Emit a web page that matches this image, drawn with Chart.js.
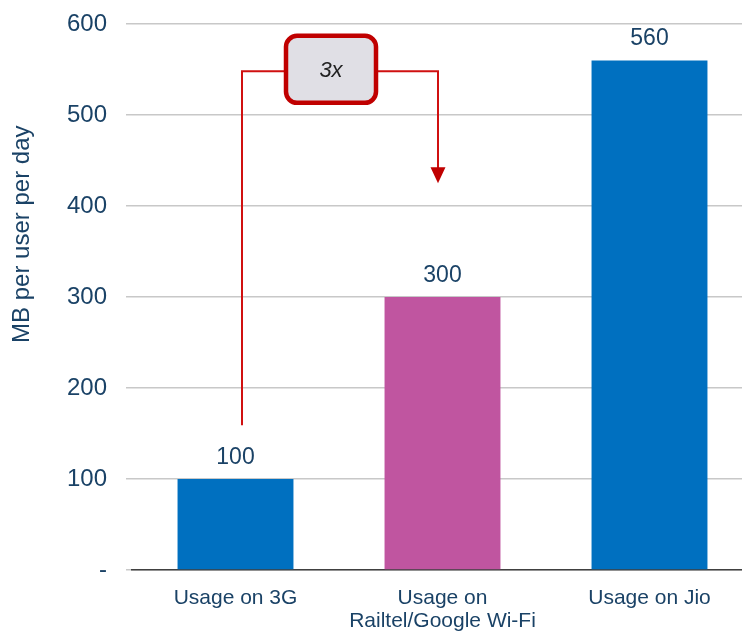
<!DOCTYPE html>
<html><head><meta charset="utf-8">
<script src="https://cdn.jsdelivr.net/npm/chart.js@4"></script>
<style>html,body{margin:0;padding:0;background:#fff;overflow:hidden;width:742px;height:632px}
#wrap{width:753px;height:632px;position:relative}</style>
</head><body><div id="wrap"><canvas id="c"></canvas></div>
<script>
const categories = [["Usage on 3G"], ["Usage on", "Railtel/Google Wi-Fi"], ["Usage on Jio"]];
const values = [100, 300, 560];
const barColors = ["#0070c0", "#c055a0", "#0070c0"];
const yTicks = [0, 100, 200, 300, 400, 500, 600];
const yTitle = "MB per user per day";
const multiplierLabel = "3x";
// annotation anchors in data units
const bracketStart = 159, bracketTop = 548, arrowTip = 425;
const yTitleCenter = 369;

const textColor = "#1a4266";
const FONT = '"Liberation Sans", Arial, sans-serif';

const dataLabels = {
  id: 'dataLabels',
  afterDatasetsDraw(chart) {
    const ctx = chart.ctx;
    const meta = chart.getDatasetMeta(0);
    ctx.save();
    ctx.font = '23px ' + FONT;
    ctx.fillStyle = textColor;
    ctx.textAlign = 'center';
    ctx.textBaseline = 'alphabetic';
    meta.data.forEach((bar, i) => {
      ctx.fillText(String(values[i]), bar.x, bar.y - 15);
    });
    ctx.restore();
  }
};

const axisTitle = {
  id: 'axisTitle',
  afterDraw(chart) {
    const ctx = chart.ctx;
    const y = chart.scales.y.getPixelForValue(yTitleCenter);
    ctx.save();
    ctx.translate(22, y);
    ctx.rotate(-Math.PI / 2);
    ctx.font = '24px ' + FONT;
    ctx.fillStyle = textColor;
    ctx.textAlign = 'center';
    ctx.textBaseline = 'middle';
    ctx.fillText(yTitle, 0, 0);
    ctx.restore();
  }
};

const bracket = {
  id: 'bracket',
  afterDatasetsDraw(chart) {
    const ctx = chart.ctx;
    const ys = chart.scales.y;
    const meta = chart.getDatasetMeta(0);
    const x0 = meta.data[0].x + 6.5;
    const x1 = meta.data[1].x - 4.5;
    const yStart = ys.getPixelForValue(bracketStart);
    const yTop = ys.getPixelForValue(bracketTop);
    const yTip = ys.getPixelForValue(arrowTip);
    ctx.save();
    ctx.strokeStyle = '#d01010';
    ctx.lineWidth = 2;
    ctx.beginPath();
    ctx.moveTo(x0, yStart);
    ctx.lineTo(x0, yTop);
    ctx.lineTo(x1, yTop);
    ctx.lineTo(x1, yTip - 14);
    ctx.stroke();
    ctx.fillStyle = '#c00000';
    ctx.beginPath();
    ctx.moveTo(x1 - 7.5, yTip - 16);
    ctx.lineTo(x1 + 7.5, yTip - 16);
    ctx.lineTo(x1, yTip);
    ctx.closePath();
    ctx.fill();
    // box
    const cx = (x0 + x1) / 2 - 9, w = 90, h = 67;
    const bx = cx - w / 2, by = yTop - h / 2 - 2;
    ctx.beginPath();
    ctx.roundRect(bx, by, w, h, 11);
    ctx.fillStyle = '#e0dfe5';
    ctx.fill();
    ctx.lineWidth = 4.5;
    ctx.strokeStyle = '#c00000';
    ctx.stroke();
    ctx.fillStyle = '#222';
    ctx.font = 'italic 22px ' + FONT;
    ctx.textAlign = 'center';
    ctx.textBaseline = 'middle';
    ctx.fillText(multiplierLabel, cx, yTop);
    ctx.restore();
  }
};

new Chart(document.getElementById('c'), {
  type: 'bar',
  data: {
    labels: categories,
    datasets: [{ data: values, backgroundColor: barColors, categoryPercentage: 1, barPercentage: 0.56 }]
  },
  options: {
    responsive: true,
    maintainAspectRatio: false,
    animation: false,
    layout: { padding: { top: 24, left: 0, right: 0, bottom: 0 } },
    plugins: { legend: { display: false }, tooltip: { enabled: false } },
    scales: {
      x: {
        grid: { display: false },
        border: { display: true, color: '#404040', width: 1.5 },
        ticks: { color: textColor, font: { size: 21, family: FONT, lineHeight: 1.1 }, padding: 9, maxRotation: 0 },
        afterFit(s) { s.height = 62; s.paddingLeft = 0; s.paddingRight = 0; }
      },
      y: {
        min: 0, max: 600,
        afterBuildTicks(s) { s.ticks = yTicks.map(v => ({ value: v })); },
        grid: { color: '#c8c8c8', lineWidth: 1.5, tickLength: 6, tickColor: '#c8c8c8' },
        border: { display: false },
        ticks: {
          color: textColor, padding: 19,
          font: { size: 24, family: FONT },
          callback: v => v === 0 ? '-' : String(v)
        },
        afterFit(s) { s.width = 132; s.paddingTop = 0; s.paddingBottom = 0; }
      }
    }
  },
  plugins: [dataLabels, bracket, axisTitle]
});
</script>
</body></html>
